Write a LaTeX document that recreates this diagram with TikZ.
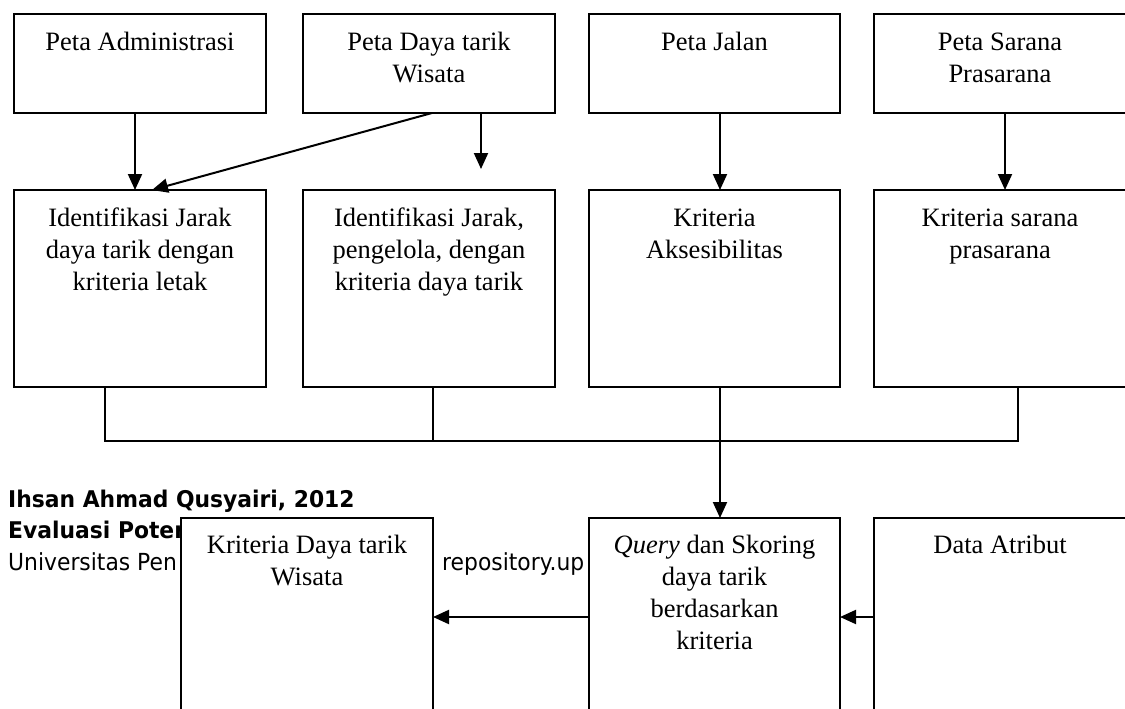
\documentclass[tikz,border=0pt]{standalone}
\usepackage{fontspec}
\setmainfont{Liberation Serif}
\newfontfamily\footfont[FakeStretch=0.93]{DejaVu Sans}
\newfontfamily\footbfont[FakeStretch=0.95]{DejaVu Sans}
\usetikzlibrary{arrows.meta}
\begin{document}
\begin{tikzpicture}[x=1pt,y=-1pt,
  box/.style={draw, line width=2pt, fill=white, inner sep=0pt, outer sep=0pt, anchor=north west},
  lbl/.style={font=\fontsize{26.5}{32}\selectfont, align=center, inner sep=0pt, anchor=north},
  arr/.style={line width=2pt, -{Triangle[length=16pt,width=14pt]}},
  ln/.style={line width=2pt},
  foot/.style={font=\footfont\fontsize{23.5}{28}\selectfont, inner sep=0pt, anchor=base west},
  footb/.style={font=\footbfont\bfseries\fontsize{23}{28}\selectfont, inner sep=0pt, anchor=base west}]
\useasboundingbox (0,0) rectangle (1125,709);
\clip (0,0) rectangle (1125,709);

% footer text (partly covered by boxes)
\node[footb] (f1) at (8,507) {Ihsan Ahmad Qusyairi, 2012};
\node[footb] (f2) at (8,538) {Evaluasi Poten};
\node[foot]  (f3) at (8,570) {Universitas Pen};
\node[foot]  (f4) at (442,570) {repository.up};

% top row
\node[box, minimum width=252pt, minimum height=99pt] (A) at (14,14) {};
\node[box, minimum width=252pt, minimum height=99pt] (B) at (303,14) {};
\node[box, minimum width=251pt, minimum height=99pt] (C) at (589,14) {};
\node[box, minimum width=252pt, minimum height=99pt] (D) at (874,14) {};
\node[lbl] (At) at (140,27.6) {\strut Peta Administrasi};
\node[lbl] (Bt) at (429,27.6) {\strut Peta Daya tarik\\Wisata};
\node[lbl] (Ct) at (714.5,27.6) {\strut Peta Jalan};
\node[lbl] (Dt) at (1000,27.6) {\strut Peta Sarana\\Prasarana};

% middle row
\node[box, minimum width=252pt, minimum height=197pt] (E) at (14,190) {};
\node[box, minimum width=252pt, minimum height=197pt] (F) at (303,190) {};
\node[box, minimum width=251pt, minimum height=197pt] (G) at (589,190) {};
\node[box, minimum width=252pt, minimum height=197pt] (H) at (874,190) {};
\node[lbl] (Et) at (140,203.6) {\strut Identifikasi Jarak\\daya tarik dengan\\kriteria letak};
\node[lbl] (Ft) at (429,203.6) {\strut Identifikasi Jarak,\\pengelola, dengan\\kriteria daya tarik};
\node[lbl] (Gt) at (714.5,203.6) {\strut Kriteria\\Aksesibilitas};
\node[lbl] (Ht) at (1000,203.6) {\strut Kriteria sarana\\prasarana};

% bottom row
\node[box, minimum width=252pt, minimum height=212pt] (I) at (181,518) {};
\node[box, minimum width=251pt, minimum height=212pt] (J) at (589,518) {};
\node[box, minimum width=252pt, minimum height=212pt] (K) at (874,518) {};
\node[lbl] (It) at (307,530.6) {\strut Kriteria Daya tarik\\Wisata};
\node[lbl] (Jt) at (714.5,530.6) {\strut\textit{Query} dan Skoring\\daya tarik\\berdasarkan\\kriteria};
\node[lbl] (Kt) at (1000,530.6) {\strut Data Atribut};

% arrows top -> middle
\draw[arr] ([xshift=-5pt]A.south) -- ([xshift=-5pt]E.north);
\draw[arr] ([xshift=3pt]B.south) -- ([xshift=12pt]E.north);
\coordinate (Bend) at (481,169);
\draw[arr] ([xshift=52pt]B.south) -- (Bend);
\draw[arr] ([xshift=5.5pt]C.south) -- ([xshift=5.5pt]G.north);
\draw[arr] ([xshift=5pt]D.south) -- ([xshift=5pt]H.north);

% collector
\coordinate (busL) at (105,441);
\coordinate (busR) at (1018,441);
\draw[ln] ([xshift=-35pt]E.south) -- (busL) -- (busR) -- ([xshift=18pt]H.south);
\draw[ln] ([xshift=4pt]F.south) -- ([xshift=4pt]F.south |- busL);
\draw[arr] ([xshift=5.5pt]G.south) -- ([xshift=5.5pt]J.north);

% bottom arrows
\draw[arr] ([yshift=7pt]J.west) -- ([yshift=7pt]I.east);
\draw[arr] ([yshift=7pt]K.west) -- ([yshift=7pt]J.east);
\end{tikzpicture}
\end{document}
